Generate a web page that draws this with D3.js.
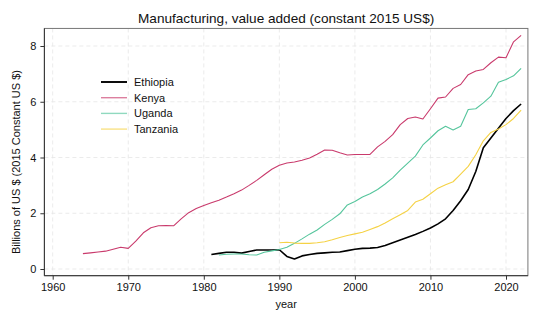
<!DOCTYPE html>
<html>
<head>
<meta charset="utf-8">
<script src="https://cdn.jsdelivr.net/npm/d3@7"></script>
<style>
  body { margin: 0; background: #fff; }
  text { font-family: "Liberation Sans", Arial, sans-serif; fill: #111; }
</style>
</head>
<body>
<div id="chart"></div>
<script>
// values (billions of constant 2015 US$)
const kenyaYears = d3.range(1964, 2023);
const kenya = [0.55, 0.58, 0.61, 0.64, 0.71, 0.78, 0.74, 1.0, 1.3, 1.48,
  1.55, 1.56, 1.55, 1.8, 2.02, 2.17, 2.28, 2.38, 2.47, 2.58,
  2.7, 2.83, 3.0, 3.18, 3.38, 3.58, 3.72, 3.8, 3.84, 3.9,
  3.98, 4.12, 4.27, 4.26, 4.17, 4.09, 4.11, 4.11, 4.11, 4.38,
  4.58, 4.82, 5.18, 5.4, 5.45, 5.38, 5.75, 6.13, 6.17, 6.48,
  6.62, 6.97, 7.1, 7.16, 7.4, 7.6, 7.58, 8.15, 8.38];

const ethiopiaYears = d3.range(1981, 2023);
const ethiopia = [0.52, 0.56, 0.6, 0.6, 0.57, 0.63, 0.68, 0.68, 0.68, 0.69,
  0.45, 0.36, 0.47, 0.52, 0.56, 0.58, 0.6, 0.61, 0.66, 0.71,
  0.74, 0.75, 0.77, 0.84, 0.94, 1.04, 1.14, 1.24, 1.35, 1.47,
  1.62, 1.8, 2.1, 2.45, 2.85, 3.5, 4.35, 4.7, 5.05, 5.4,
  5.68, 5.92];

const ugandaYears = d3.range(1982, 2023);
const uganda = [0.5, 0.53, 0.54, 0.54, 0.51, 0.5, 0.6, 0.65, 0.7, 0.78,
  0.92, 1.08, 1.25, 1.4, 1.6, 1.78, 1.98, 2.3, 2.42, 2.58,
  2.7, 2.85, 3.05, 3.27, 3.55, 3.8, 4.05, 4.45, 4.7, 4.96,
  5.12, 4.99, 5.12, 5.72, 5.75, 5.96, 6.2, 6.7, 6.8, 6.93,
  7.2];

const tanzaniaYears = d3.range(1990, 2023);
const tanzania = [0.94, 0.96, 0.93, 0.92, 0.92, 0.94, 0.98, 1.05, 1.13, 1.2,
  1.26, 1.32, 1.42, 1.52, 1.65, 1.8, 1.95, 2.1, 2.4, 2.5,
  2.7, 2.9, 3.02, 3.13, 3.4, 3.68, 4.1, 4.6, 4.9, 5.02,
  5.18, 5.4, 5.7];

const xTicks = [1960, 1970, 1980, 1990, 2000, 2010, 2020];
const yTicks = [0, 2, 4, 6, 8];

const series = [
  { name: "Ethiopia", years: ethiopiaYears, values: ethiopia, color: "#000000", width: 1.6 },
  { name: "Kenya", years: kenyaYears, values: kenya, color: "#c93a6c", width: 1.1 },
  { name: "Uganda", years: ugandaYears, values: uganda, color: "#55c59c", width: 1.1 },
  { name: "Tanzania", years: tanzaniaYears, values: tanzania, color: "#f5d245", width: 1.1 }
];

const width = 540, height = 324;

const svg = d3.select("#chart")
  .append("svg")
  .attr("width", width)
  .attr("height", height);

// scales
const x = d3.scaleLinear().domain([1960, 2020]).range([52.7, 506]);
const y = d3.scaleLinear().domain([0, 8]).range([269, 46]);

const pLeft = x(1958.9), pRight = x(2022.9);
const pTop = y(8.63), pBottom = y(-0.24);

// grid
const grid = svg.append("g")
  .attr("stroke", "#e6e6e6")
  .attr("stroke-dasharray", "4,3")
  .attr("stroke-width", 0.8);
grid.selectAll(".gx").data(xTicks).join("line")
  .attr("x1", d => x(d)).attr("x2", d => x(d))
  .attr("y1", pTop).attr("y2", pBottom);
grid.selectAll(".gy").data(yTicks).join("line")
  .attr("x1", pLeft).attr("x2", pRight)
  .attr("y1", d => y(d)).attr("y2", d => y(d));

// lines
const line = d3.line()
  .x(d => x(d[0]))
  .y(d => y(d[1]));

svg.selectAll(".series")
  .data(series)
  .join("path")
  .attr("fill", "none")
  .attr("stroke", d => d.color)
  .attr("stroke-width", d => d.width)
  .attr("stroke-linejoin", "round")
  .attr("d", d => line(d.years.map((yr, i) => [yr, d.values[i]])));

// frame
svg.append("rect")
  .attr("x", pLeft).attr("y", pTop)
  .attr("width", pRight - pLeft).attr("height", pBottom - pTop)
  .attr("fill", "none")
  .attr("stroke", "#777")
  .attr("stroke-width", 1);

// axes
const xAxis = svg.append("g")
  .attr("transform", `translate(0, ${pBottom})`)
  .call(d3.axisBottom(x).tickValues(xTicks).tickFormat(d3.format("d")).tickSize(4).tickPadding(4));
xAxis.select(".domain").attr("d", `M${pLeft},0H${pRight}`).attr("stroke", "#333");
xAxis.selectAll("text").style("font-size", "11px").attr("fill", "#111");
xAxis.selectAll(".tick line").attr("stroke", "#333");

const yAxis = svg.append("g")
  .attr("transform", `translate(${pLeft}, 0)`)
  .call(d3.axisLeft(y).tickValues(yTicks).tickSize(4).tickPadding(4));
yAxis.select(".domain").attr("d", `M0,${pTop}V${pBottom}`).attr("stroke", "#333");
yAxis.selectAll("text").style("font-size", "11px").attr("fill", "#111");
yAxis.selectAll(".tick line").attr("stroke", "#333");

// titles
svg.append("text")
  .attr("x", (pLeft + pRight) / 2)
  .attr("y", 23)
  .attr("text-anchor", "middle")
  .style("font-size", "13.6px")
  .text("Manufacturing, value added (constant 2015 US$)");

svg.append("text")
  .attr("x", (pLeft + pRight) / 2)
  .attr("y", 308)
  .attr("text-anchor", "middle")
  .style("font-size", "11px")
  .text("year");

svg.append("text")
  .attr("transform", `translate(20, ${(pTop + pBottom) / 2 + 10}) rotate(-90)`)
  .attr("text-anchor", "middle")
  .style("font-size", "11px")
  .text("Billions of US $ (2015 Constant US $)");

// legend
const legend = svg.append("g");
const rows = legend.selectAll("g")
  .data(series)
  .join("g")
  .attr("transform", (d, i) => `translate(101, ${82 + i * 15.7})`);
rows.append("line")
  .attr("x1", 0).attr("x2", 26)
  .attr("stroke", d => d.color)
  .attr("stroke-opacity", d => d.name === "Ethiopia" ? 1 : 0.65)
  .attr("stroke-width", d => d.width + 0.3);
rows.append("text")
  .attr("x", 33)
  .attr("dy", "0.35em")
  .style("font-size", "11px")
  .text(d => d.name);
</script>
</body>
</html>
